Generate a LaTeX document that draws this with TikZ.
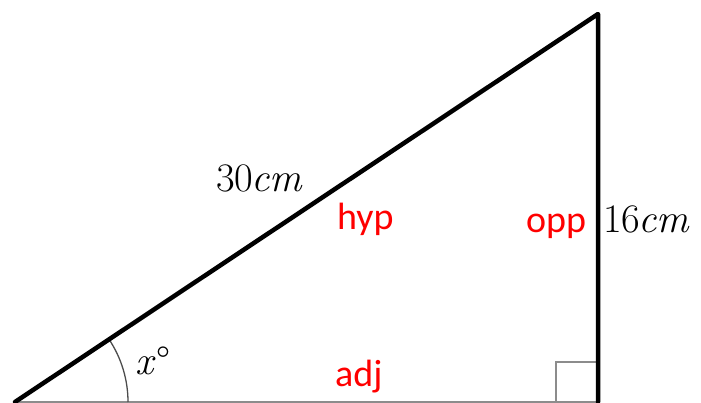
\documentclass[tikz,border=0pt]{standalone}
\usepackage{fontspec}
\newfontfamily\labfont{Carlito}
\begin{document}
\begin{tikzpicture}[x=1pt,y=1pt,
  redlab/.style={inner sep=0pt,anchor=base west,text=red,font=\labfont\fontsize{38}{40}\selectfont},
  mathlab/.style={inner sep=0pt,anchor=base west,font=\fontsize{40.5}{42}\selectfont},
  thickside/.style={line width=4.5pt,line cap=round,line join=round},
  thinside/.style={line width=1.6pt,draw=black!45},
  markline/.style={line width=1.4pt,draw=black!45}]
\useasboundingbox (0,0) rectangle (701,403);
\coordinate (A) at (15,1);
\coordinate (B) at (598,389);
\coordinate (C) at (598,1);
\draw[thinside] (A) -- (C);
\draw[markline] (556,1) -- (556,41) -- (C|-0,41);
\draw[line width=1.3pt,draw=black!70] ([shift={(0:113)}]A) arc[start angle=0,end angle=33.6,radius=113];
\draw[thickside] (A) -- (B) -- (C);
\node[mathlab] (len30) at (216,211) {30\kern-2pt\textit{cm}};
\node[redlab] (hyp) at (337,173) {hyp};
\node[redlab] (opp) at (526,170) {opp};
\node[mathlab] (len16) at (603,170) {16\kern-2pt\textit{cm}};
\node[redlab] (adj) at (335,16) {adj};
\node[mathlab] (ang) at (135,28) {\textit{x}\kern1pt°};
\end{tikzpicture}
\end{document}
